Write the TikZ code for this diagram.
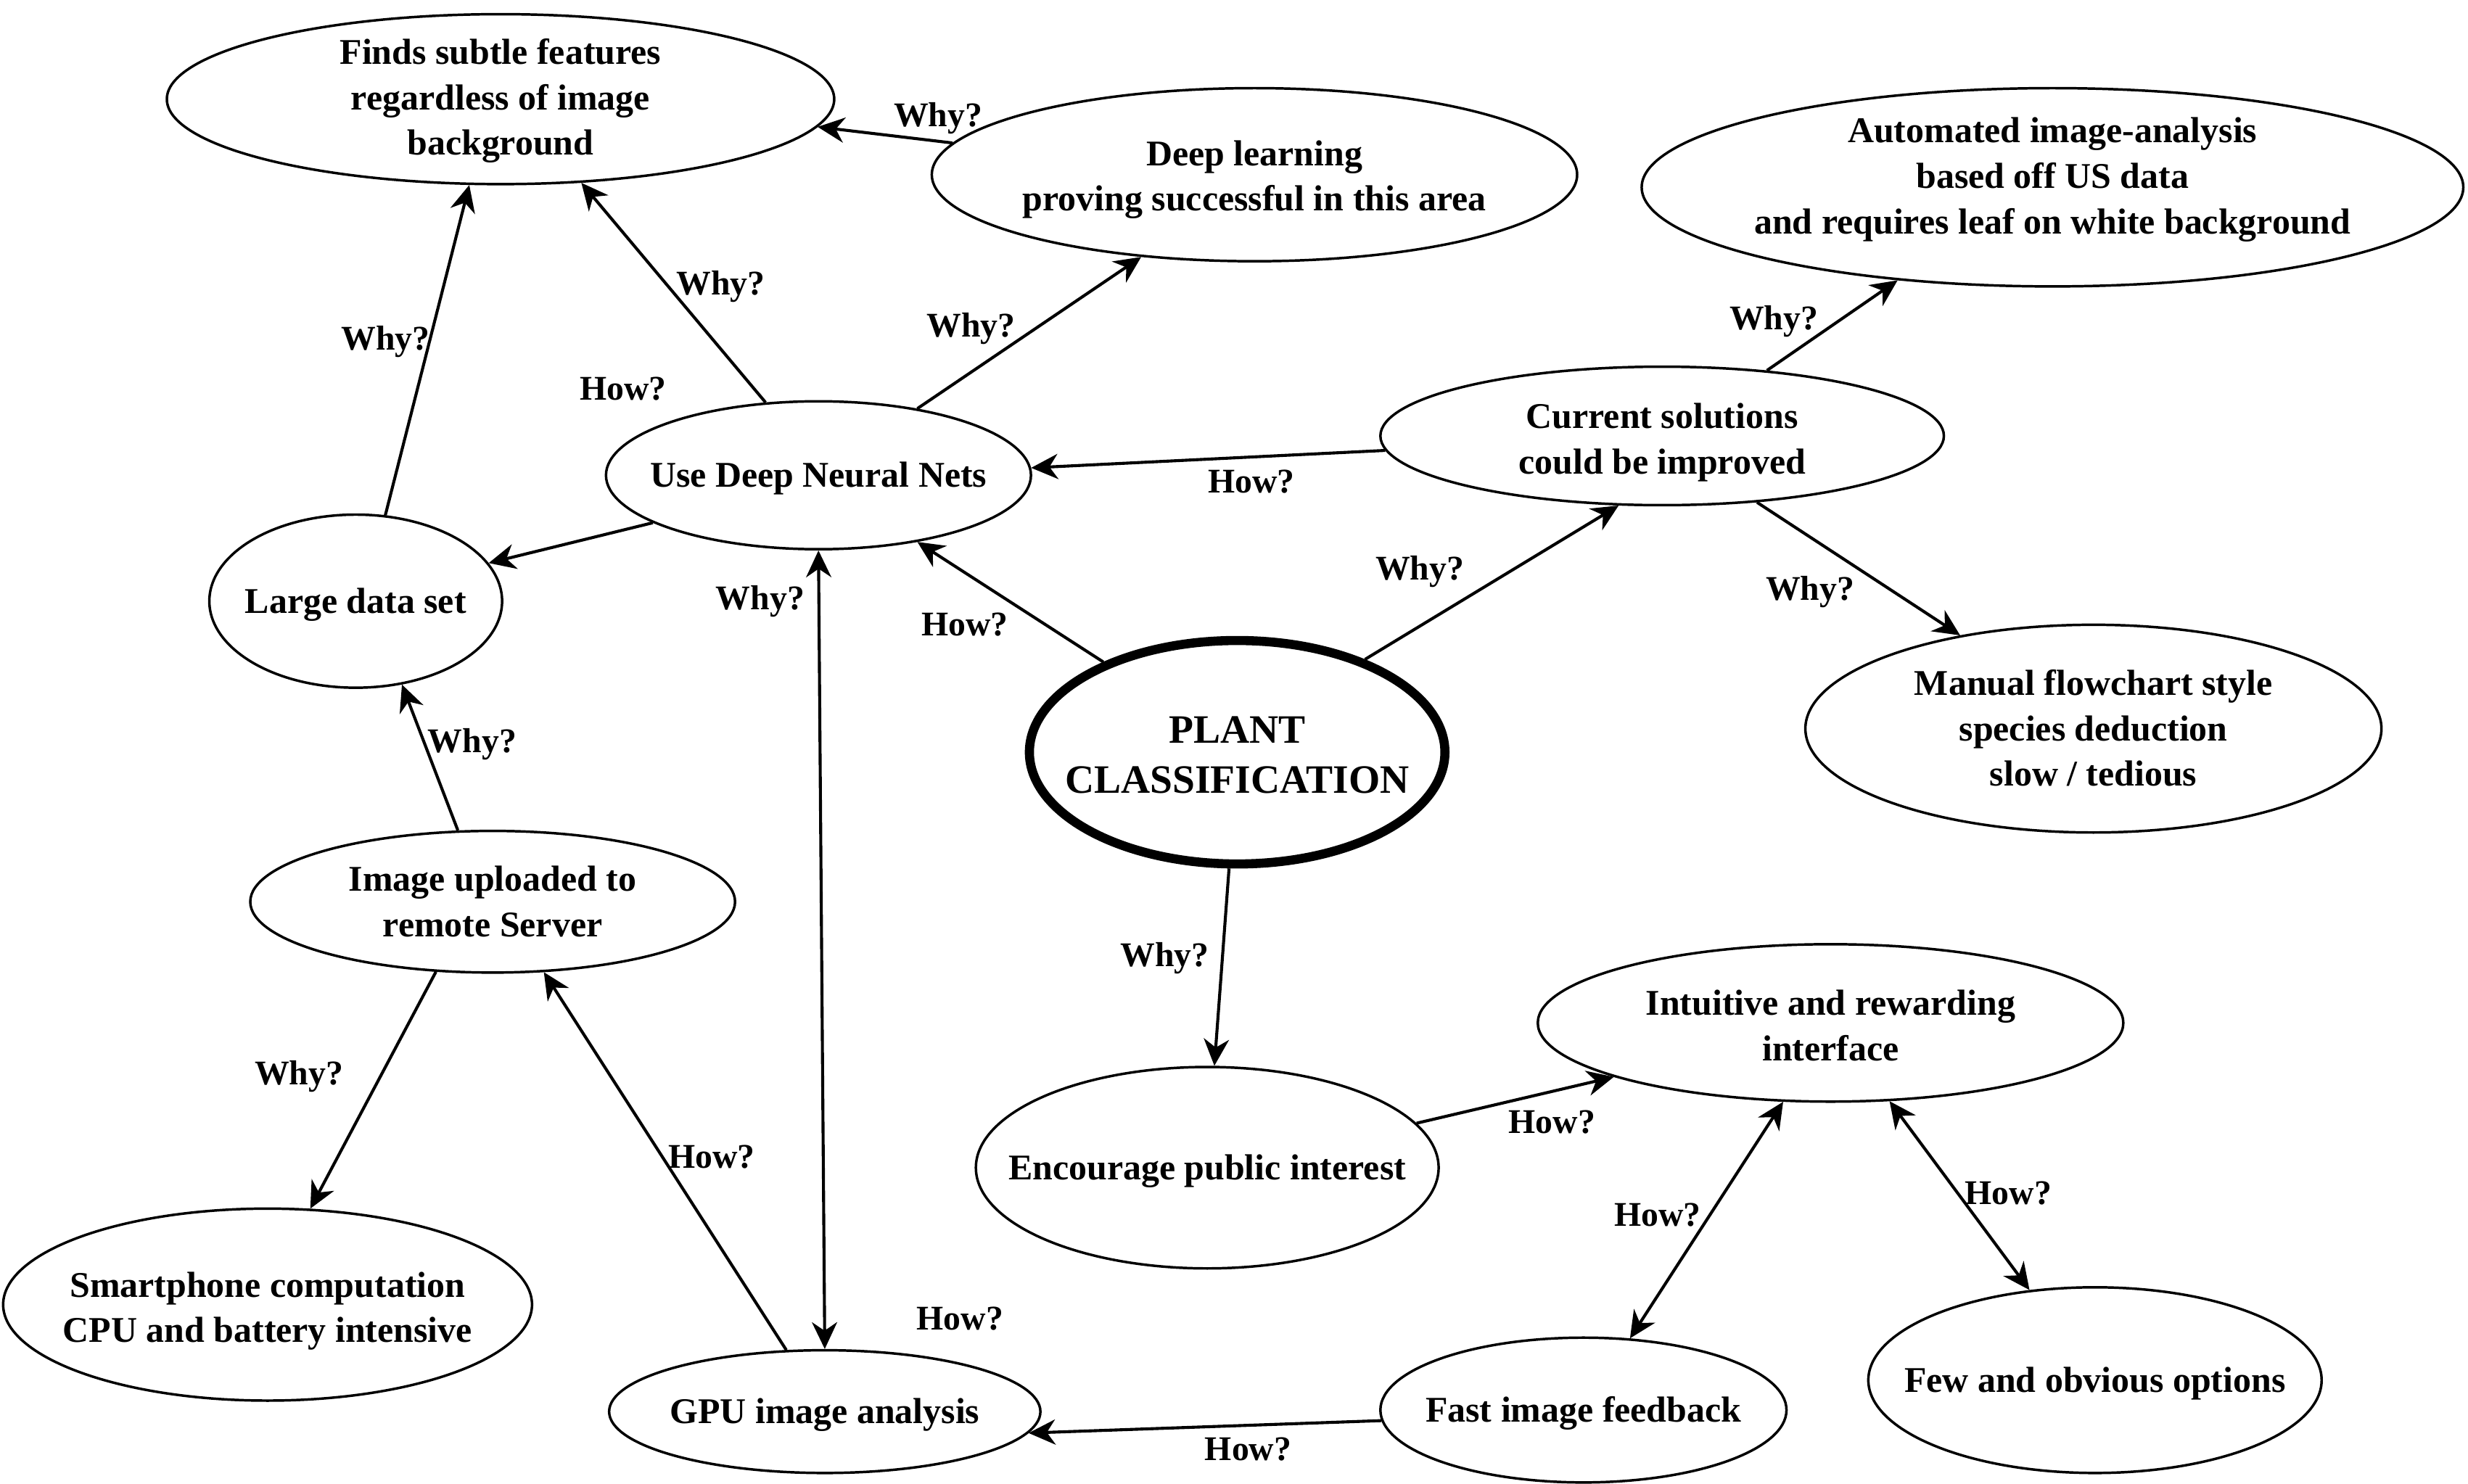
\documentclass[tikz,border=0pt]{standalone}
\usepackage{fontspec}
\setmainfont{Liberation Serif}
\usetikzlibrary{shapes.geometric,arrows.meta}
\newcommand{\ctext}[2][0]{\makebox[0pt]{\smash{\raisebox{\dimexpr-3.9pt-#1pt\relax}{\begin{tabular}{@{}c@{}}#2\end{tabular}}}}}
\begin{document}
\begin{tikzpicture}[x=0.5pt,y=-0.5pt,
 bub/.style={ellipse, draw, line width=0.8pt, inner sep=0pt, font=\fontsize{11.5}{14.5}\selectfont\bfseries},
 lbl/.style={font=\fontsize{11}{13}\selectfont\bfseries, inner sep=0pt},
 tip/.tip={Stealth[length=8.5pt,width=8pt,inset=2.7pt]},
 arr/.style={line width=0.95pt, -tip},
 darr/.style={line width=0.95pt, tip-tip}]
\useasboundingbox (0,0) rectangle (1568,943);
\fill[white] (0,0) rectangle (1568,943);
% nodes
\node[bub, minimum width=212pt, minimum height=54pt] (F) at (318,63) {\ctext[-0.5]{Finds subtle features\\regardless of image\\background}};
\node[bub, minimum width=205pt, minimum height=55pt] (D) at (797,111) {\ctext[0.5]{Deep learning\\proving successful in this area}};
\node[bub, minimum width=261pt, minimum height=63pt] (A) at (1304,119) {\ctext[-3.5]{Automated image-analysis\\based off US data\\and requires leaf on white background}};
\node[bub, minimum width=135pt, minimum height=47pt] (U) at (520,302) {\ctext{Use Deep Neural Nets}};
\node[bub, minimum width=179pt, minimum height=44pt] (C) at (1056,277) {\ctext[1]{Current solutions\\could be improved}};
\node[bub, minimum width=93pt, minimum height=55pt] (L) at (226,382) {\ctext{Large data set}};
\node[bub, line width=2.9pt, minimum width=132pt, minimum height=71pt, font=\fontsize{12.8}{16}\selectfont\bfseries] (P) at (786,478) {\ctext[1]{PLANT\\CLASSIFICATION}};
\node[bub, minimum width=183pt, minimum height=66pt] (M) at (1330,463) {\ctext{Manual flowchart style\\species deduction\\slow / tedious}};
\node[bub, minimum width=154pt, minimum height=45pt] (I) at (313,573) {\ctext{Image uploaded to\\remote Server}};
\node[bub, minimum width=186pt, minimum height=50pt] (T) at (1163,650) {\ctext[1]{Intuitive and rewarding\\interface}};
\node[bub, minimum width=147pt, minimum height=64pt] (E) at (767,742) {\ctext{Encourage public interest}};
\node[bub, minimum width=168pt, minimum height=61pt] (S) at (170,829) {\ctext[1]{Smartphone computation\\CPU and battery intensive}};
\node[bub, minimum width=137pt, minimum height=39pt] (G) at (524,897) {\ctext{GPU image analysis}};
\node[bub, minimum width=129pt, minimum height=46pt] (B) at (1006,896) {\ctext{Fast image feedback}};
\node[bub, minimum width=144pt, minimum height=59pt] (O) at (1331,877) {\ctext{Few and obvious options}};
% connectors
\draw[arr] (D.174.4) -- (F.-5.8);
\draw[arr] (U.126.7) -- (F.-46.5);
\draw[arr] (L.71.3) -- (F.-110.7);
\draw[arr] (U.34.9) -- (D.-144.3);
\draw[arr] (C.32) -- (A.-149.3);
\draw[arr] (C.183.2) -- (U.2.1);
\draw[arr] (C.-35.1) -- (M.145.9);
\draw[arr] (U.-164.1) -- (L.16);
\draw[arr] (P.146.6) -- (U.-34.5);
\draw[arr] (P.36.9) -- (C.-122.2);
\draw[darr] (U.-90.5) -- (G.90.5);
\draw[arr] (I.116.6) -- (L.-61.1);
\draw[arr] (I.-129) -- (S.66.6);
\draw[arr] (G.122.7) -- (I.-54.5);
\draw[arr] (P.-94.8) -- (E.86.4);
\draw[arr] (E.12.7) -- (T.-166.8);
\draw[darr] (T.-121.9) -- (B.57.8);
\draw[darr] (T.-53) -- (O.126.7);
\draw[arr] (B.183.1) -- (G.-6.5);
% labels
\node[lbl] (l1) at (596,75) {Why?};
\node[lbl] (l2) at (458,182) {Why?};
\node[lbl] (l3) at (396,247) {How?};
\node[lbl] (l4) at (245,217) {Why?};
\node[lbl] (l5) at (617,209) {Why?};
\node[lbl] (l6) at (1127,204) {Why?};
\node[lbl] (l7) at (795,306) {How?};
\node[lbl] (l8) at (1150,376) {Why?};
\node[lbl] (l9) at (613,397) {How?};
\node[lbl] (l10) at (902,363) {Why?};
\node[lbl] (l11) at (483,382) {Why?};
\node[lbl] (l12) at (300,473) {Why?};
\node[lbl] (l13) at (190,684) {Why?};
\node[lbl] (l14) at (452,735) {How?};
\node[lbl] (l15) at (740,609) {Why?};
\node[lbl] (l16) at (986,713) {How?};
\node[lbl] (l17) at (1053,772) {How?};
\node[lbl] (l18) at (1276,758) {How?};
\node[lbl] (l19) at (793,921) {How?};
\node[lbl] (l20) at (610,838) {How?};
\end{tikzpicture}
\end{document}
